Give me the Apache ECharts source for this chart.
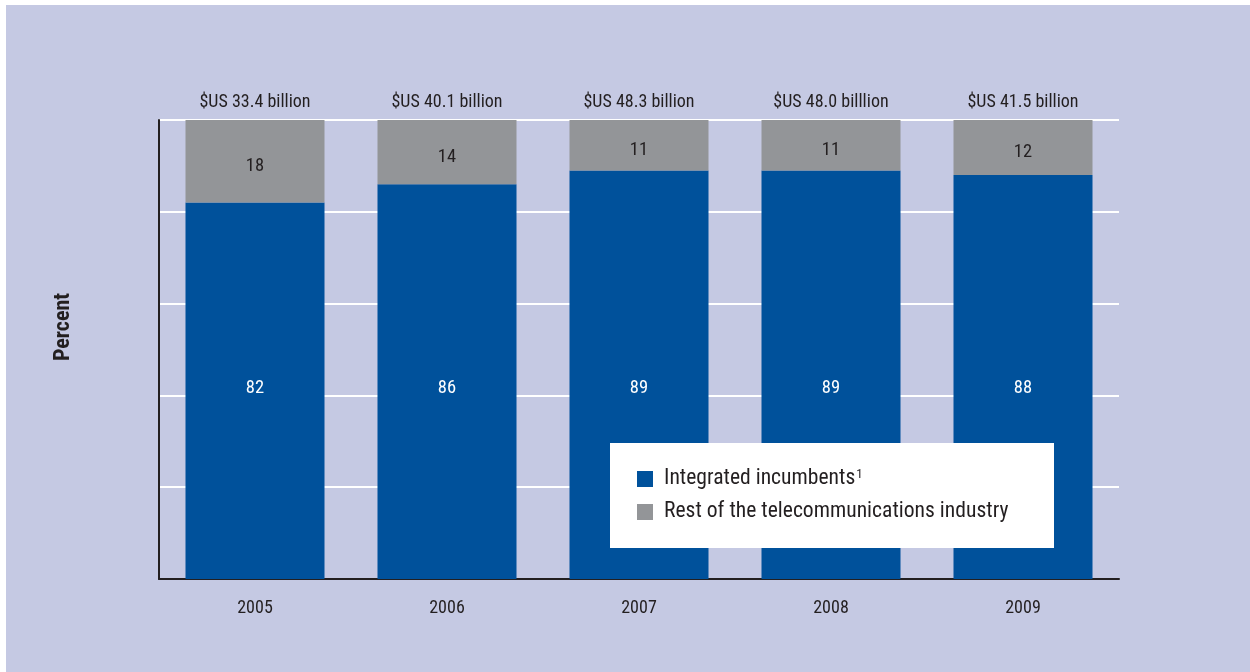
<!DOCTYPE html>
<html>
<head>
<meta charset="utf-8">
<script src="https://cdn.jsdelivr.net/npm/echarts@6/dist/echarts.min.js"></script>
<style>
html,body{margin:0;padding:0;background:#ffffff;}
#chart{width:1250px;height:672px;}
</style>
</head>
<body>
<div id="chart"></div>
<script>
const years = ['2005', '2006', '2007', '2008', '2009'];
const incumbents = [82, 86, 89, 89, 88];
const restOfIndustry = [18, 14, 11, 11, 12];
const totals = ['$US 33.4 billion', '$US 40.1 billion', '$US 48.3 billion', '$US 48.0 billlion', '$US 41.5 billion'];
const yTicks = [0, 20, 40, 60, 80, 100];

const FONT = "'Roboto Condensed', 'Roboto', sans-serif";
const TXT = '#231f20';
const BLUE = '#00519b';
const GRAY = '#939598';

const chart = echarts.init(document.getElementById('chart'), null, {renderer: 'canvas'});
chart.setOption({
  backgroundColor: '#ffffff',
  animation: false,
  textStyle: {fontFamily: FONT, color: TXT},
  grid: {left: 159, top: 120, width: 960, height: 459, containLabel: false},
  graphic: [
    {type: 'rect', z: -10, silent: true, shape: {x: 6, y: 5, width: 1244, height: 667}, style: {fill: '#c5c9e3'}},
    {type: 'rect', z: 10, silent: true, shape: {x: 610, y: 443, width: 444, height: 105}, style: {fill: '#ffffff'}},
    {type: 'text', z: 10, silent: true, x: 63, y: 327, rotation: Math.PI / 2,
     style: {text: 'Percent', font: "bold 22px " + FONT, fill: TXT, align: 'center', verticalAlign: 'middle'}}
  ],
  legend: {
    z: 20,
    orient: 'vertical',
    left: 637, top: 468,
    padding: 0,
    icon: 'rect',
    itemWidth: 16, itemHeight: 16,
    itemGap: 11,
    data: ['Integrated incumbents', 'Rest of the telecommunications industry'],
    formatter: function (name) {
      return name === 'Integrated incumbents' ? '{t|' + name + '}{sup|1}' : '{t|' + name + '}';
    },
    textStyle: {
      fontFamily: FONT, color: TXT, fontSize: 21.6, lineHeight: 21, padding: [0, 0, 0, 6],
      rich: {
        t: {fontFamily: FONT, color: TXT, fontSize: 21.6, lineHeight: 21},
        sup: {fontFamily: FONT, color: TXT, fontSize: 13, lineHeight: 21, verticalAlign: 'top', padding: [0, 0, 8, 1]}
      }
    }
  },
  xAxis: {
    type: 'category',
    data: years,
    axisLine: {show: true, lineStyle: {color: TXT, width: 2}},
    axisTick: {show: false},
    axisLabel: {fontFamily: FONT, fontSize: 18, color: TXT, margin: 20}
  },
  yAxis: {
    type: 'value',
    min: yTicks[0], max: yTicks[yTicks.length - 1], interval: 20,
    axisLine: {show: true, lineStyle: {color: TXT, width: 2}},
    axisTick: {show: false},
    axisLabel: {show: false},
    splitLine: {show: true, lineStyle: {color: '#ffffff', width: 2}}
  },
  series: [
    {
      name: 'Integrated incumbents', type: 'bar', stack: 'a', data: incumbents,
      barWidth: 139, itemStyle: {color: BLUE},
      label: {show: true, position: 'insideBottom', distance: 181, color: '#ffffff', fontFamily: FONT, fontSize: 18.5}
    },
    {
      name: 'Rest of the telecommunications industry', type: 'bar', stack: 'a', data: restOfIndustry,
      barWidth: 139, itemStyle: {color: GRAY},
      label: {show: true, position: 'inside', offset: [0, 5], color: TXT, fontFamily: FONT, fontSize: 18.5}
    },
    {
      name: 'total', type: 'bar', stack: 'a', data: years.map(() => 0),
      barWidth: 139, itemStyle: {color: 'transparent'},
      label: {show: true, position: 'top', distance: 9, color: TXT, fontFamily: FONT, fontSize: 18,
        formatter: function (p) { return totals[p.dataIndex]; }}
    }
  ]
});
</script>
</body>
</html>
